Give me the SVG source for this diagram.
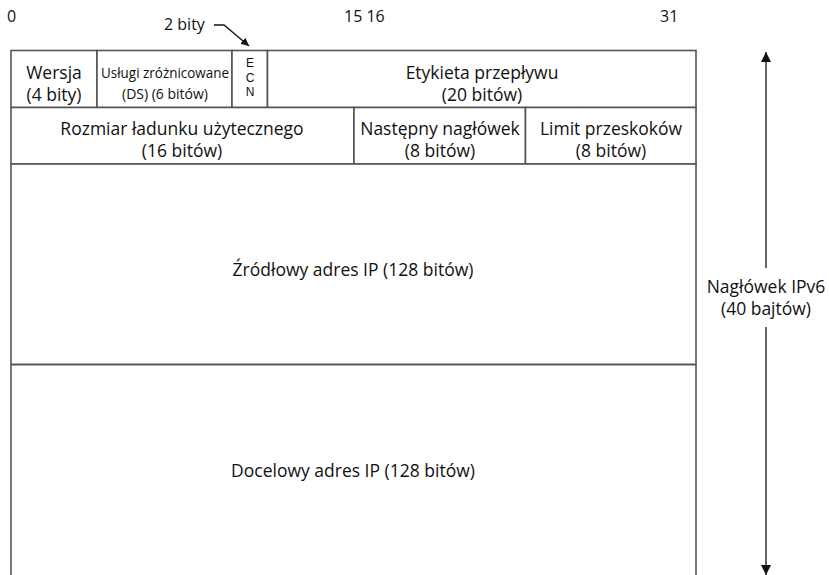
<svg xmlns="http://www.w3.org/2000/svg" width="829" height="575" viewBox="0 0 829 575">
<defs>
<style>
text{font-family:"Open Sans","Liberation Sans",sans-serif;font-size:17.5px;fill:#111;text-anchor:middle}
.lbl{text-anchor:start;font-size:16px}
.sm{font-size:15px}
.ecn{font-family:"Liberation Sans",Arial,sans-serif;font-size:12px}
.box{fill:#fff;stroke:#555;stroke-width:1.6}
.ln{stroke:#555;stroke-width:1.6;fill:none}
.arr{stroke:#111;stroke-width:1.3;fill:none}
</style>
<marker id="ah" viewBox="0 0 10 10" refX="10" refY="5" markerWidth="8" markerHeight="8" orient="auto" markerUnits="userSpaceOnUse">
<path d="M0,0 L10,5 L0,10 z" fill="#111"/>
</marker>
<marker id="ahb" viewBox="0 0 10 10" refX="10" refY="5" markerWidth="12" markerHeight="10" orient="auto" markerUnits="userSpaceOnUse">
<path d="M0,0 L10,5 L0,10 z" fill="#111"/>
</marker>
</defs>
<rect width="829" height="575" fill="#fff"/>
<g id="bit-labels">
<text class="lbl" x="7" y="22">0</text>
<text class="lbl" x="344" y="22">15 16</text>
<text class="lbl" x="660" y="22">31</text>
<text class="lbl" x="164" y="30">2 bity</text>
</g>
<g id="wersja">
<rect class="box" x="11" y="50.5" width="86" height="57"/>
<text x="54" y="79">Wersja</text>
<text x="54" y="101">(4 bity)</text>
</g>
<g id="uslugi">
<rect class="box" x="97" y="50.5" width="135" height="57"/>
<text class="sm" x="165" y="78" textLength="128" lengthAdjust="spacingAndGlyphs">Usługi zróżnicowane</text>
<text class="sm" x="165" y="99" textLength="86" lengthAdjust="spacingAndGlyphs">(DS) (6 bitów)</text>
</g>
<g id="ecn">
<rect class="box" x="232" y="50.5" width="35.5" height="57"/>
<text class="ecn" x="250" y="67">E</text>
<text class="ecn" x="250" y="81.5">C</text>
<text class="ecn" x="250" y="96">N</text>
</g>
<g id="etykieta">
<rect class="box" x="267.5" y="50.5" width="428.5" height="57"/>
<text x="482" y="79">Etykieta przepływu</text>
<text x="482" y="101">(20 bitów)</text>
</g>
<g id="rozmiar">
<rect class="box" x="11" y="107.5" width="343" height="56.5"/>
<text x="182" y="135">Rozmiar ładunku użytecznego</text>
<text x="182" y="157">(16 bitów)</text>
</g>
<g id="nastepny">
<rect class="box" x="354" y="107.5" width="171.5" height="56.5"/>
<text x="440" y="135">Następny nagłówek</text>
<text x="440" y="157">(8 bitów)</text>
</g>
<g id="limit">
<rect class="box" x="525.5" y="107.5" width="170.5" height="56.5"/>
<text x="611" y="135">Limit przeskoków</text>
<text x="611" y="157">(8 bitów)</text>
</g>
<g id="zrodlowy">
<rect class="box" x="11" y="164" width="685" height="200.5"/>
<text x="353" y="276">Źródłowy adres IP (128 bitów)</text>
</g>
<g id="docelowy">
<path class="ln" d="M11,364.5 V580 M696,364.5 V580 M11,364.5 H696"/>
<text x="353" y="477">Docelowy adres IP (128 bitów)</text>
</g>
<g id="naglowek-label">
<text x="766" y="293">Nagłówek IPv6</text>
<text x="766" y="315">(40 bajtów)</text>
</g>
<g id="connectors">
<path class="arr" d="M214,25 H224 L249,46" marker-end="url(#ah)"/>
<path class="arr" d="M766,268 V52" marker-end="url(#ahb)"/>
<path class="arr" d="M766,327 V575" marker-end="url(#ahb)"/>
</g>
</svg>
